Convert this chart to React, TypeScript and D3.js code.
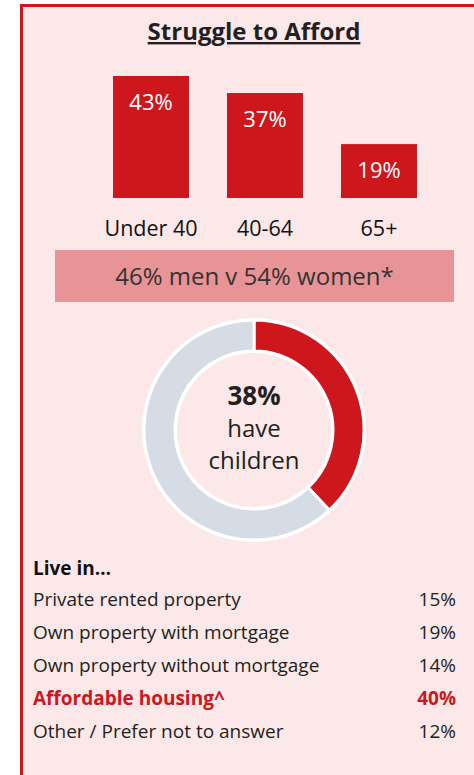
import React from "react";
import * as d3 from "d3";

const ageGroups = ["Under 40", "40-64", "65+"];
const ageValues = [43, 37, 19];
const genderLabel = "46% men v 54% women*";
const childrenShare = 38;
const housingTypes = [
  "Private rented property",
  "Own property with mortgage",
  "Own property without mortgage",
  "Affordable housing^",
  "Other / Prefer not to answer",
];
const housingValues = [15, 19, 14, 40, 12];
const highlightIndex = 3;

const W = 474;
const H = 775;
const RED = "#cd171d";
const BG = "#fce8e9";
const FONT = "'Open Sans', sans-serif";

export default function App() {
  const x = d3.scaleBand<string>().domain(ageGroups).range([94, 436]).paddingInner(1 / 3).paddingOuter(1 / 6);
  const y = d3.scaleLinear().domain([0, 43]).range([198, 76]);

  const pie = d3.pie<number>().sort(null).value((d) => d);
  const arcs = pie([childrenShare, 100 - childrenShare]);
  const arc = d3.arc<d3.PieArcDatum<number>>().innerRadius(79).outerRadius(110);
  const cx = 254;
  const cy = 430;

  const rowY = d3.scaleLinear().domain([0, 1]).range([606, 639]);

  return (
    <div style={{ position: "absolute", left: 0, top: 0 }}>
      <svg width={W} height={H} style={{ display: "block" }}>
        <rect x={0} y={0} width={W} height={H} fill="#fff" />
        <rect x={21} y={5} width={W - 21} height={H - 5} fill={BG} />
        <rect x={21} y={4} width={W - 21} height={3} fill={RED} />
        <rect x={20} y={4} width={3} height={H - 4} fill={RED} />

        <text x={254} y={40} textAnchor="middle" fontFamily={FONT} fontWeight={700} fontSize={24} fill="#231f20" textDecoration="underline">
          Struggle to Afford
        </text>

        {ageGroups.map((g, i) => (
          <g key={g}>
            <rect x={x(g)} y={y(ageValues[i])} width={x.bandwidth()} height={y(0) - y(ageValues[i])} fill={RED} />
            <text x={x(g)! + x.bandwidth() / 2} y={y(ageValues[i]) + 34} textAnchor="middle" fontFamily={FONT} fontSize={22} fill="#fff">
              {ageValues[i]}%
            </text>
            <text x={x(g)! + x.bandwidth() / 2} y={236} textAnchor="middle" fontFamily={FONT} fontSize={21.5} fill="#111">
              {g}
            </text>
          </g>
        ))}

        <rect x={55} y={250} width={399} height={52} fill="#e89496" />
        <text x={254.5} y={285} textAnchor="middle" fontFamily={FONT} fontSize={24} fill="#333">
          {genderLabel}
        </text>

        <circle cx={cx} cy={cy} r={112} fill="#fff" />
        <g transform={`translate(${cx},${cy})`}>
          {arcs.map((a, i) => (
            <path key={i} d={arc(a)!} fill={i === 0 ? RED : "#d5dce6"} stroke="#fff" strokeWidth={3} />
          ))}
        </g>
        <circle cx={cx} cy={cy} r={77} fill={BG} />
        <text x={cx} y={405} textAnchor="middle" fontFamily={FONT} fontWeight={700} fontSize={26} fill="#231f20">
          {childrenShare}%
        </text>
        <text x={cx} y={437} textAnchor="middle" fontFamily={FONT} fontSize={24} fill="#231f20">
          have
        </text>
        <text x={cx} y={469} textAnchor="middle" fontFamily={FONT} fontSize={24} fill="#231f20">
          children
        </text>

        <text x={33} y={575} fontFamily={FONT} fontWeight={700} fontSize={19} fill="#111">
          Live in…
        </text>
        {housingTypes.map((t, i) => {
          const hl = i === highlightIndex;
          return (
            <g key={t}>
              <text x={33} y={rowY(i)} fontFamily={FONT} fontSize={19} fontWeight={hl ? 700 : 400} fill={hl ? RED : "#231f20"}>
                {t}
              </text>
              <text x={456} y={rowY(i)} textAnchor="end" fontFamily={FONT} fontSize={19} fontWeight={hl ? 700 : 400} fill={hl ? RED : "#231f20"}>
                {housingValues[i]}%
              </text>
            </g>
          );
        })}
      </svg>
    </div>
  );
}
